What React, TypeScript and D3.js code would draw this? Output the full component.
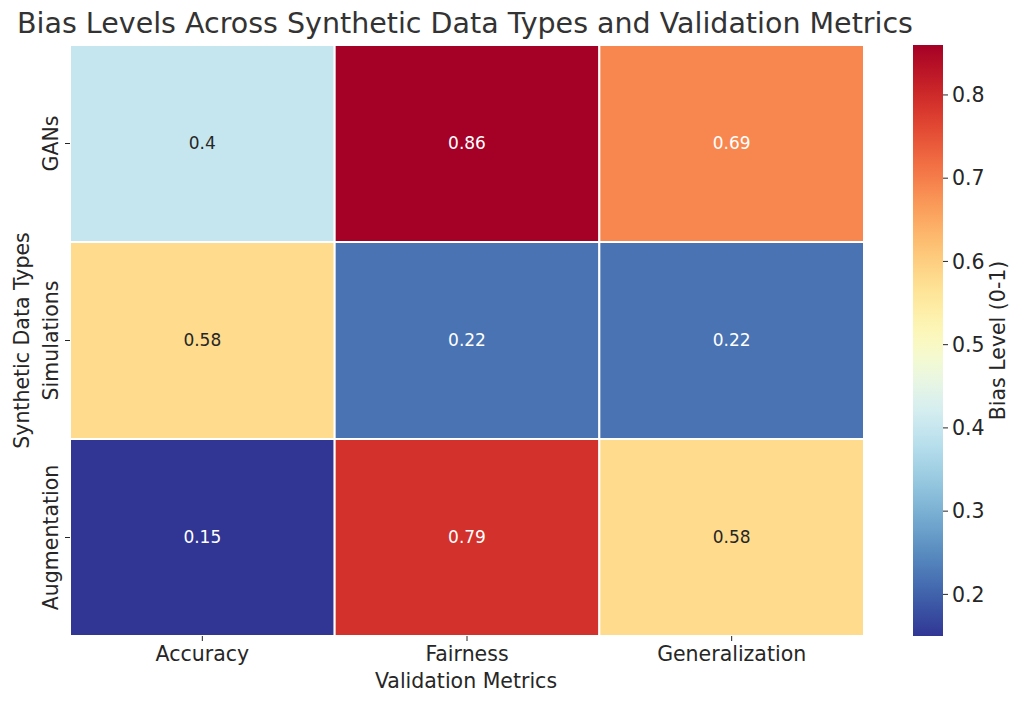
import React from "react";
import * as d3 from "d3";

const dataTypes = ["GANs", "Simulations", "Augmentation"];
const metrics = ["Accuracy", "Fairness", "Generalization"];
const gansValues = [0.4, 0.86, 0.69];
const simulationsValues = [0.58, 0.22, 0.22];
const augmentationValues = [0.15, 0.79, 0.58];
const colorbarTicks = [0.2, 0.3, 0.4, 0.5, 0.6, 0.7, 0.8];
const vmin = 0.15;
const vmax = 0.86;

const W = 1024;
const H = 706;
const left = 70, right = 864, top = 45, bottom = 636;
const cbLeft = 913, cbRight = 943;
const textColor = "#262626";
const font = "DejaVu Sans, sans-serif";

function color(v: number) {
  const t = (v - vmin) / (vmax - vmin);
  return d3.interpolateRdYlBu(1 - Math.max(0, Math.min(1, t)));
}

function textFill(v: number) {
  const c = d3.rgb(color(v));
  const lin = (x: number) => {
    x /= 255;
    return x <= 0.03928 ? x / 12.92 : Math.pow((x + 0.055) / 1.055, 2.4);
  };
  const lum = 0.2126 * lin(c.r) + 0.7152 * lin(c.g) + 0.0722 * lin(c.b);
  return lum > 0.408 ? "#262626" : "#ffffff";
}

export default function App() {
  const rows = [gansValues, simulationsValues, augmentationValues];
  const x = d3.scaleBand<string>().domain(metrics).range([left, right]);
  const y = d3.scaleBand<string>().domain(dataTypes).range([top, bottom]);
  const cy = d3.scaleLinear().domain([vmin, vmax]).range([bottom, top]);
  const stops = d3.range(0, 1.0001, 0.02);

  return (
    <svg
      width={W}
      height={H}
      style={{ position: "absolute", left: 0, top: 0, background: "#fff" }}
      fontFamily={font}
    >
      <defs>
        <linearGradient id="cb" x1="0" y1="1" x2="0" y2="0">
          {stops.map((s) => (
            <stop key={s} offset={s} stopColor={color(vmin + s * (vmax - vmin))} />
          ))}
        </linearGradient>
      </defs>
      <text x={465} y={33} textAnchor="middle" fontSize={28.5} fill="#333333">
        Bias Levels Across Synthetic Data Types and Validation Metrics
      </text>
      {rows.map((vals, i) =>
        vals.map((v, j) => {
          const cx = x(metrics[j])!;
          const ry = y(dataTypes[i])!;
          return (
            <g key={`${i}-${j}`}>
              <rect
                x={cx}
                y={ry}
                width={x.bandwidth()}
                height={y.bandwidth()}
                fill={color(v)}
                stroke="#fff"
                strokeWidth={2}
              />
              <text
                x={cx + x.bandwidth() / 2}
                y={ry + y.bandwidth() / 2}
                dy="0.35em"
                textAnchor="middle"
                fontSize={17}
                fill={textFill(v)}
              >
                {String(v)}
              </text>
            </g>
          );
        })
      )}
      {metrics.map((m) => {
        const cx = x(m)! + x.bandwidth() / 2;
        return (
          <g key={m}>
            <line x1={cx} x2={cx} y1={bottom} y2={bottom + 5} stroke={textColor} strokeWidth={1} />
            <text x={cx} y={bottom + 25} textAnchor="middle" fontSize={20.5} fill={textColor}>
              {m}
            </text>
          </g>
        );
      })}
      {dataTypes.map((d) => {
        const cyy = y(d)! + y.bandwidth() / 2;
        return (
          <g key={d}>
            <line x1={left - 5} x2={left} y1={cyy} y2={cyy} stroke={textColor} strokeWidth={1} />
            <text
              transform={`translate(${left - 12},${cyy}) rotate(-90)`}
              textAnchor="middle"
              fontSize={20.5}
              fill={textColor}
            >
              {d}
            </text>
          </g>
        );
      })}
      <text x={466} y={688} textAnchor="middle" fontSize={20.5} fill={textColor}>
        Validation Metrics
      </text>
      <text
        transform={`translate(29,${(top + bottom) / 2}) rotate(-90)`}
        textAnchor="middle"
        fontSize={20.5}
        fill={textColor}
      >
        Synthetic Data Types
      </text>
      <rect x={cbLeft} y={top} width={cbRight - cbLeft} height={bottom - top} fill="url(#cb)" />
      {colorbarTicks.map((t) => (
        <g key={t}>
          <line x1={cbRight} x2={cbRight + 5} y1={cy(t)} y2={cy(t)} stroke={textColor} strokeWidth={1} />
          <text x={cbRight + 9} y={cy(t)} dy="0.35em" fontSize={20.5} fill={textColor}>
            {t.toFixed(1)}
          </text>
        </g>
      ))}
      <text
        transform={`translate(1005,${(top + bottom) / 2}) rotate(-90)`}
        textAnchor="middle"
        fontSize={20.5}
        fill={textColor}
      >
        Bias Level (0-1)
      </text>
    </svg>
  );
}
